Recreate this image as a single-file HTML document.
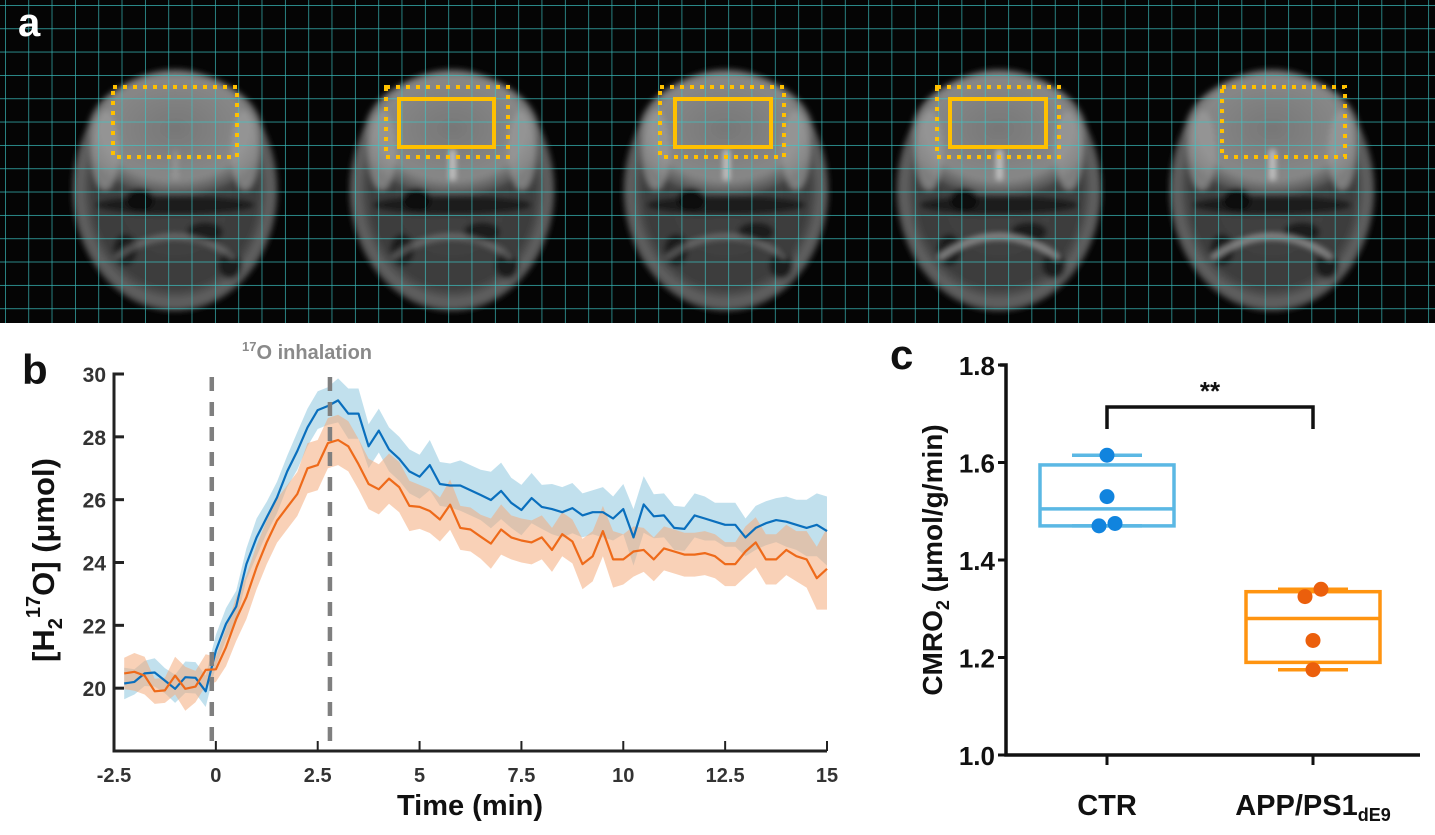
<!DOCTYPE html>
<html><head><meta charset="utf-8">
<style>
body{margin:0;background:#fff;width:1435px;height:835px;overflow:hidden;font-family:"Liberation Sans",sans-serif;}
svg{position:absolute;left:0;top:0;}
</style></head>
<body>
<svg id="fig" width="1435" height="835" viewBox="0 0 1435 835">
<defs>
  <radialGradient id="headG" cx="50%" cy="50%" r="50%">
    <stop offset="0%" stop-color="#444"/><stop offset="80%" stop-color="#3c3c3c"/><stop offset="93%" stop-color="#666"/><stop offset="100%" stop-color="#111"/>
  </radialGradient>
  <radialGradient id="brainG" cx="50%" cy="45%" r="55%">
    <stop offset="0%" stop-color="#777"/><stop offset="75%" stop-color="#888"/><stop offset="100%" stop-color="#4a4a4a"/>
  </radialGradient>
  <filter id="blur"><feGaussianBlur stdDeviation="3"/></filter>
  <pattern id="grid" x="5" y="5" width="23.33" height="23.33" patternUnits="userSpaceOnUse">
    <path d="M0 0H23.33M0 0V23.33" stroke="#3cc8c8" stroke-width="1.4" fill="none" opacity="0.9"/>
  </pattern>
</defs>
<g>
  <rect x="0" y="0" width="1435" height="323" fill="#050505"/>
  <g id="brains"></g>
  <rect x="0" y="0" width="1435" height="323" fill="url(#grid)"/>
  <g id="rois"></g>
  <text x="18" y="36" font-size="40" font-weight="bold" fill="#fff">a</text>
</g>
<g id="panelB"></g>
<g id="panelC"></g>
</svg>
<script>
// ---------- panel b data ----------
const times = [];
const tStart = -2.25, tStep = 0.25;
const ctrMean = [20.15,20.2,20.47,20.5,20.24,19.98,20.35,20.33,19.9,21.2,
22.05,22.6,23.95,24.8,25.44,26.07,26.9,27.55,28.3,28.85,28.98,29.16,28.74,28.74,27.7,28.2,27.6,27.3,26.9,26.73,27.1,26.5,26.45,26.45,
26.3,26.15,25.99,26.28,25.9,25.67,26.05,25.77,25.7,25.6,25.73,25.5,25.6,25.6,25.4,25.7,24.8,25.85,25.47,25.5,25.1,25.07,25.5,25.4,25.3,25.2,25.2,24.8,25.1,25.25,25.35,25.3,25.2,25.1,25.2,25.0];
const ctrErr = [0.5,0.4,0.4,0.45,0.4,0.45,0.5,0.5,0.5,0.5,
0.5,0.5,0.5,0.6,0.5,0.5,0.5,0.6,0.6,0.6,0.6,0.7,0.8,0.8,0.7,0.7,0.7,0.7,0.7,0.7,0.8,0.7,0.7,0.8,
0.8,0.8,0.9,0.9,0.8,0.8,0.8,0.7,0.8,0.8,0.8,0.7,0.7,0.8,0.7,0.8,0.9,0.9,0.7,0.7,0.7,0.7,0.7,0.7,0.6,0.7,0.7,0.6,0.7,0.7,0.7,0.8,0.8,0.9,1.0,1.1];
const appMean = [20.47,20.52,20.4,19.9,19.93,20.4,19.98,20.05,20.58,20.6,
21.3,22.2,22.9,23.85,24.65,25.33,25.76,26.18,27.0,27.1,27.8,27.9,27.7,27.13,26.5,26.33,26.67,26.4,25.8,25.77,25.64,25.37,25.84,25.1,
25.05,24.82,24.6,25.05,24.8,24.7,24.64,24.8,24.4,24.9,24.67,23.95,24.2,25.0,24.1,24.1,24.35,24.4,24.1,24.45,24.35,24.25,24.25,24.3,24.2,23.95,23.95,24.35,24.64,24.1,24.1,24.4,24.2,24.1,23.5,23.8];
const appErr = [0.5,0.6,0.6,0.4,0.4,0.6,0.7,0.5,0.5,0.4,
0.6,0.7,0.7,0.7,0.7,0.7,0.7,0.7,0.8,0.8,0.8,0.8,0.8,0.8,0.8,0.8,0.8,0.8,0.8,0.7,0.7,0.7,0.8,0.7,
0.7,0.7,0.8,0.8,0.7,0.7,0.7,0.7,0.7,0.7,0.7,0.8,0.8,0.8,0.9,0.8,0.8,0.7,0.7,0.7,0.7,0.7,0.7,0.7,0.7,0.7,0.7,0.8,0.8,0.8,0.8,0.8,0.8,0.9,1.0,1.3];
const xTicks = [-2.5,0,2.5,5,7.5,10,12.5,15];
const yTicks = [20,22,24,26,28,30];
const markers = [-0.1, 2.8];
// ---------- panel c data ----------
const groups = ["CTR","APP/PS1"];
const boxQ1 = [1.47,1.19];
const boxMed = [1.505,1.28];
const boxQ3 = [1.595,1.335];
const whiskLo = [1.47,1.175];
const whiskHi = [1.615,1.34];
const ctrPoints = [1.615,1.53,1.47,1.475];
const appPoints = [1.325,1.34,1.235,1.175];
const cTicks = [1.0,1.2,1.4,1.6,1.8];

const NS="http://www.w3.org/2000/svg";
function mk(tag,attrs,parent){const e=document.createElementNS(NS,tag);for(const k in attrs)e.setAttribute(k,attrs[k]);parent.appendChild(e);return e;}
for(let i=0;i<ctrMean.length;i++) times.push(tStart+i*tStep);

// ---------- panel a brains ----------
const brains=document.getElementById('brains');
const centers=[175,452,726,999,1272];
centers.forEach((cx,i)=>{
  const g=mk('g',{filter:'url(#blur)'},brains);
  
  
  mk('ellipse',{cx:cx,cy:190,rx:103,ry:122,fill:'url(#headG)'},g);
  mk('ellipse',{cx:cx,cy:135,rx:88,ry:62,fill:'url(#brainG)'},g);
  mk('ellipse',{cx:cx-70,cy:150,rx:14,ry:40,fill:'#9a9a9a',opacity:0.7},g);
  mk('ellipse',{cx:cx+70,cy:150,rx:14,ry:40,fill:'#9a9a9a',opacity:0.7},g);
  mk('ellipse',{cx:cx,cy:205,rx:80,ry:10,fill:'#141414',opacity:0.85},g);
  mk('ellipse',{cx:cx-35,cy:200,rx:14,ry:12,fill:'#0c0c0c'},g);
  mk('ellipse',{cx:cx+30,cy:232,rx:18,ry:10,fill:'#1a1a1a'},g);
  mk('ellipse',{cx:cx-50,cy:250,rx:12,ry:16,fill:'#1c1c1c'},g);
  mk('ellipse',{cx:cx+55,cy:265,rx:12,ry:14,fill:'#1c1c1c'},g);
  mk('path',{d:`M${cx-60} 258 Q${cx} 215 ${cx+60} 258`,stroke:'#999',"stroke-width":5,fill:'none',opacity:i>2?0.9:0.5},g);
  mk('rect',{x:cx-2,y:150,width:5,height:30,fill:'#ddd',opacity:i==0?0.2:0.8},g);
  mk('ellipse',{cx:cx,cy:190,rx:100,ry:118,fill:'none',stroke:'#777',"stroke-width":3,opacity:0.6},g);
});
const rois=document.getElementById('rois');
const dotted=[[113,87,124,70],[386,87,122,70],[660,87,124,70],[937,87,122,70],[1222,87,123,70]];
dotted.forEach((r,i)=>{
  const e=mk('rect',{x:r[0],y:r[1],width:r[2],height:r[3],fill:'none',stroke:'#ffc000',"stroke-width":4,"stroke-dasharray":'4 6'},rois);
  
  
});
const solid=[[399,99,95,48],[675,99,96,48],[950,99,96,48]];
solid.forEach((r,i)=>{
  const e=mk('rect',{x:r[0],y:r[1],width:r[2],height:r[3],fill:'none',stroke:'#ffc000',"stroke-width":4},rois);
  
  
});

// ---------- panel b ----------
const B=document.getElementById('panelB');
const xs=t=>114+(t+2.5)*(827-114)/17.5;
const ys=v=>374+(30-v)*(751-374)/12;
function band(mean,err,color,name){
  let d='M';
  times.forEach((t,i)=>{d+=xs(t).toFixed(1)+' '+ys(mean[i]+err[i]).toFixed(1)+' L';});
  for(let i=times.length-1;i>=0;i--){d+=xs(times[i]).toFixed(1)+' '+ys(mean[i]-err[i]).toFixed(1)+(i?' L':' Z');}
  const p=mk('path',{d:d,fill:color,opacity:0.55},B);
  
  
}
function line(mean,color,name){
  const pts=times.map((t,i)=>xs(t).toFixed(1)+','+ys(mean[i]).toFixed(1)).join(' ');
  const p=mk('polyline',{points:pts,fill:'none',stroke:color,"stroke-width":2.2,"stroke-linejoin":'round'},B);
  
  
}
band(ctrMean,ctrErr,'#8ec6de','ctr-error-band');
band(appMean,appErr,'#f4ab7c','app-error-band');
line(ctrMean,'#0a6fbd','ctr-mean-line');
line(appMean,'#ee6a1a','app-mean-line');
markers.forEach((m,i)=>{
  const e=mk('line',{x1:xs(m),x2:xs(m),y1:377,y2:752,stroke:'#7f7f7f',"stroke-width":4.5,"stroke-dasharray":'14 11'},B);
  
  
});
let ax=mk('path',{d:`M124 374 H114 V751 H827`,fill:'none',stroke:'#222',"stroke-width":3},B);


yTicks.forEach(v=>{
  const t=mk('line',{x1:114,x2:124,y1:ys(v),y2:ys(v),stroke:'#222',"stroke-width":3},B);
  
  
  const l=mk('text',{x:106,y:ys(v)+8,"text-anchor":'end',"font-size":21,"font-weight":'bold',fill:'#333'},B);
  l.textContent=v;
  
  
});
xTicks.forEach(v=>{
  const t=mk('line',{x1:xs(v),x2:xs(v),y1:741,y2:751,stroke:'#222',"stroke-width":2},B);
  
  
  const l=mk('text',{x:xs(v),y:782,"text-anchor":'middle',"font-size":20,"font-weight":'bold',fill:'#333'},B);
  l.textContent=v;
  
  
});
</script>
<svg width="1435" height="835" viewBox="0 0 1435 835">
<text x="22" y="384" font-size="42" font-weight="bold" fill="#111">b</text>
<text x="242" y="359" font-size="20" font-weight="bold" fill="#8a8a8a"><tspan font-size="13" dy="-8">17</tspan><tspan dy="8">O inhalation</tspan></text>
<text x="470" y="815" font-size="29" font-weight="bold" text-anchor="middle" fill="#111">Time (min)</text>
<text transform="translate(54,560) rotate(-90)" font-size="31" font-weight="bold" text-anchor="middle" fill="#111">[H<tspan font-size="20" dy="8">2</tspan><tspan font-size="20" dy="-22">17</tspan><tspan dy="14">O] (μmol)</tspan></text>
<text x="890" y="369" font-size="42" font-weight="bold" fill="#111">c</text>
<text transform="translate(942,560) rotate(-90)" font-size="28" font-weight="bold" text-anchor="middle" fill="#111">CMRO<tspan font-size="18" dy="7">2</tspan><tspan dy="-7"> (μmol/g/min)</tspan></text>
</svg>
<script>
const C=document.getElementById('panelC');
const cy=v=>755-(v-1.0)*(755-365)/0.8;
const gx=[1107,1313];
let cax=mk('path',{d:'M1000 365 H1006 V755 H1420',fill:'none',stroke:'#111',"stroke-width":3.5},C);


cTicks.forEach(v=>{
  const t=mk('line',{x1:998,x2:1006,y1:cy(v),y2:cy(v),stroke:'#111',"stroke-width":3},C);
  
  
  const l=mk('text',{x:995,y:cy(v)+10,"text-anchor":'end',"font-size":26,"font-weight":'bold',fill:'#111'},C);
  l.textContent=v.toFixed(1);
  
  
});
gx.forEach(x=>{
  const t=mk('line',{x1:x,x2:x,y1:755,y2:765,stroke:'#111',"stroke-width":3},C);
  
  
});
const boxColors=['#5bb8e4','#ff9410'];
const dotColors=['#1184de','#eb5f0c'];
groups.forEach((g,i)=>{
  const x=gx[i];
  const w=mk('line',{x1:x-35,x2:x+35,y1:cy(whiskHi[i]),y2:cy(whiskHi[i]),stroke:boxColors[i],"stroke-width":3.5},C);
  
  
  const w2=mk('line',{x1:x-35,x2:x+35,y1:cy(whiskLo[i]),y2:cy(whiskLo[i]),stroke:boxColors[i],"stroke-width":3.5},C);
  
  
  const b=mk('rect',{x:x-67,y:cy(boxQ3[i]),width:134,height:cy(boxQ1[i])-cy(boxQ3[i]),fill:'none',stroke:boxColors[i],"stroke-width":3.5},C);
  
  
  const m=mk('line',{x1:x-67,x2:x+67,y1:cy(boxMed[i]),y2:cy(boxMed[i]),stroke:boxColors[i],"stroke-width":3.5},C);
  
  
});
const ctrOff=[0,0,-8,8], appOff=[-8,8,0,0];
ctrPoints.forEach((v,i)=>{
  const c=mk('circle',{cx:gx[0]+ctrOff[i],cy:cy(v),r:7.5,fill:dotColors[0]},C);
  
  
});
appPoints.forEach((v,i)=>{
  const c=mk('circle',{cx:gx[1]+appOff[i],cy:cy(v),r:7.5,fill:dotColors[1]},C);
  
  
});
let br=mk('path',{d:`M${gx[0]} 429 V407 H${gx[1]} V429`,fill:'none',stroke:'#111',"stroke-width":3.5},C);


let st=mk('text',{x:1210,y:400,"text-anchor":'middle',"font-size":26,"font-weight":'bold',fill:'#111'},C);
st.textContent='**';


let l1=mk('text',{x:gx[0],y:815,"text-anchor":'middle',"font-size":29,"font-weight":'bold',fill:'#111'},C);
l1.textContent=groups[0];


let l2=mk('text',{x:gx[1],y:815,"text-anchor":'middle',"font-size":29,"font-weight":'bold',fill:'#111'},C);


l2.appendChild(document.createTextNode(groups[1]));
const sub=mk('tspan',{"font-size":18,dy:6},l2);
sub.textContent='dE9';
</script>
</body></html>
